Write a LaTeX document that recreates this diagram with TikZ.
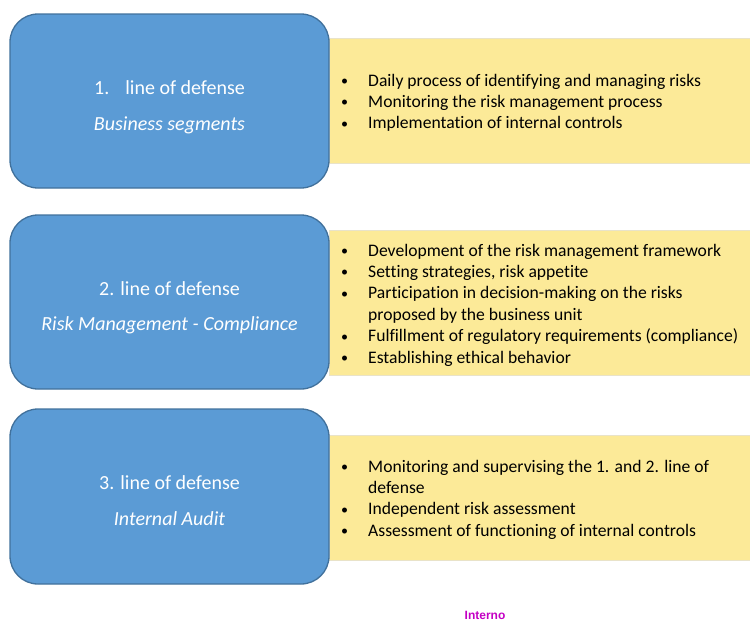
\documentclass[tikz,border=0pt]{standalone}
\usepackage{fontspec}
\setmainfont{Carlito}[Ligatures=NoCommon]
\newfontfamily\arialfont{Liberation Sans}
\usepackage{array}
\usepackage{graphicx}
\definecolor{bluefill}{HTML}{5B9BD5}
\definecolor{blueline}{HTML}{41719C}
\definecolor{yellowfill}{HTML}{FCEA98}
\definecolor{yellowline}{HTML}{E9E3C9}
\definecolor{magentatext}{HTML}{C400C4}
\newcommand{\bitem}[1]{\raisebox{0.5pt}{\scalebox{0.8}{\textbullet}} & #1\\}
\newcommand{\bcont}[1]{ & #1\\}
\newenvironment{blist}{\fontsize{17.6}{21.4}\selectfont\begin{tabular}[t]{@{}p{27pt}@{}l@{}}}{\end{tabular}}
\begin{document}
\begin{tikzpicture}[x=1pt,y=-1pt,
  linebox/.style={draw=blueline, line width=1.3pt, fill=bluefill, rounded corners=28pt,
    minimum width=319pt, anchor=north west, inner sep=0pt, outer sep=0pt},
  infobox/.style={draw=yellowline, line width=0.8pt, fill=yellowfill, minimum width=421pt,
    anchor=north west, inner sep=0pt, outer sep=0pt},
  headtext/.style={text=white, font=\fontsize{20}{24}\selectfont, anchor=base, inner sep=0pt},
  subtext/.style={text=white, font=\fontsize{20}{24}\selectfont\itshape, anchor=base, inner sep=0pt},
  listtext/.style={text=black, anchor=base west, inner sep=0pt, align=left},
  marktext/.style={text=magentatext, font=\arialfont\bfseries\fontsize{12}{14}\selectfont, anchor=base, inner sep=0pt}]
\useasboundingbox (0,0) rectangle (750,622);
% yellow info boxes
\node[infobox, minimum height=125pt] (y1) at (329,38) {};
\node[infobox, minimum height=145pt] (y2) at (329,230) {};
\node[infobox, minimum height=125pt] (y3) at (329,435) {};
% blue boxes
\node[linebox, minimum height=174pt] (b1) at (10,14) {};
\node[linebox, minimum height=174pt] (b2) at (10,215) {};
\node[linebox, minimum height=175pt] (b3) at (10,409) {};
% headings
\node[headtext] (h1) at (169.5,94) {1.\hspace{16pt}line of defense};
\node[subtext] (s1) at (169.5,130) {Business segments};
\node[headtext] (h2) at (169.5,295) {2. line of defense};
\node[subtext] (s2) at (169.5,330) {Risk Management - Compliance};
\node[headtext] (h3) at (169.5,489) {3. line of defense};
\node[subtext] (s3) at (169.5,525) {Internal Audit};
% lists
\node[listtext] (l1) at (341,86) {\begin{blist}
\bitem{Daily process of identifying and managing risks}
\bitem{Monitoring the risk management process}
\bitem{Implementation of internal controls}
\end{blist}};
\node[listtext] (l2) at (341,256) {\begin{blist}
\bitem{Development of the risk management framework}
\bitem{Setting strategies, risk appetite}
\bitem{Participation in decision-making on the risks}
\bcont{proposed by the business unit}
\bitem{Fulfillment of regulatory requirements (compliance)}
\bitem{Establishing ethical behavior}
\end{blist}};
\node[listtext] (l3) at (341,472) {\begin{blist}
\bitem{Monitoring and supervising the 1. and 2. line of}
\bcont{defense}
\bitem{Independent risk assessment}
\bitem{Assessment of functioning of internal controls}
\end{blist}};
% footer
\node[marktext] (mark) at (485,619.5) {Interno};
\end{tikzpicture}
\end{document}
